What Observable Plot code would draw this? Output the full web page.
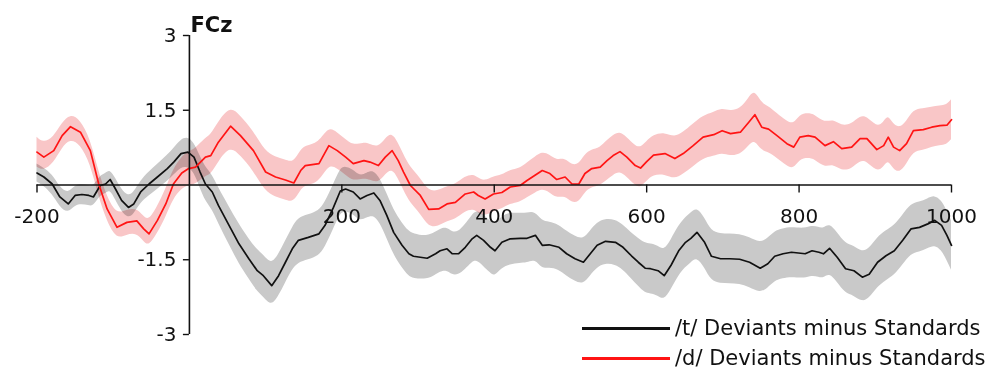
<!DOCTYPE html>
<html>
<head>
<meta charset="utf-8">
<script src="https://cdn.jsdelivr.net/npm/d3@7"></script>
<script src="https://cdn.jsdelivr.net/npm/@observablehq/plot@0.6"></script>
<style>
  html, body { margin: 0; padding: 0; background: #fff; }
  #wrap { position: relative; width: 998px; height: 371px; overflow: hidden; }
  #legend { position: absolute; left: 0; top: 0; width: 998px; height: 371px; pointer-events: none;
            font-family: "DejaVu Sans", sans-serif; font-size: 21px; color: #111; }
  .item { position: absolute; left: 582px; display: flex; align-items: center; }
  .swatch { width: 88px; height: 3px; margin-right: 5px; }
</style>
</head>
<body>
<div id="wrap"></div>
<script>
// ---- data ----
const seriesNames = ["/t/ Deviants minus Standards", "/d/ Deviants minus Standards"];
const seriesColors = ["#111111", "#ff1414"];
const bandColors = ["#c9c9c9", "#f9c6c7"];

const blackTime = [-200,-191,-180,-170,-159,-150,-141,-132,-126,-117,
  -110,-104,-97,-89,-80,-73,-64,-53,-42,-29,
  -20,-11,-2,6,14,21,30,38,52,65,
  78,89,97,108,117,126,135,143,156,170,
  178,189,198,205,215,224,233,242,250,259,
  268,279,288,294,312,323,329,338,345,353,
  362,371,377,386,395,401,410,421,434,443,
  454,463,472,485,495,506,517,526,535,546,
  559,569,580,589,598,605,615,623,632,642,
  651,658,666,676,685,697,709,722,735,749,
  759,768,779,790,808,817,826,832,840,850,
  861,872,883,892,903,914,925,936,947,958,
  969,978,987,994,1000];
const blackMean = [0.24,0.16,0.02,-0.24,-0.38,-0.21,-0.19,-0.21,-0.24,-0.01,
  0.02,0.11,-0.08,-0.31,-0.45,-0.38,-0.14,0.02,0.16,0.33,
  0.47,0.63,0.66,0.56,0.26,0.02,-0.14,-0.41,-0.81,-1.18,
  -1.48,-1.72,-1.82,-2.02,-1.82,-1.55,-1.28,-1.11,-1.05,-0.98,
  -0.81,-0.45,-0.12,-0.08,-0.14,-0.28,-0.21,-0.16,-0.31,-0.61,
  -0.95,-1.21,-1.38,-1.43,-1.47,-1.38,-1.32,-1.28,-1.38,-1.38,
  -1.25,-1.08,-1.01,-1.11,-1.25,-1.32,-1.15,-1.08,-1.07,-1.07,
  -1.01,-1.21,-1.20,-1.25,-1.38,-1.48,-1.55,-1.38,-1.21,-1.13,
  -1.15,-1.25,-1.42,-1.55,-1.67,-1.68,-1.72,-1.82,-1.61,-1.32,
  -1.15,-1.07,-0.95,-1.15,-1.43,-1.48,-1.48,-1.49,-1.55,-1.67,
  -1.58,-1.43,-1.38,-1.35,-1.38,-1.32,-1.35,-1.38,-1.27,-1.45,
  -1.68,-1.72,-1.85,-1.79,-1.55,-1.42,-1.32,-1.11,-0.88,-0.85,
  -0.78,-0.71,-0.81,-1.01,-1.21];
const blackSE = [0.18,0.18,0.2,0.2,0.2,0.2,0.2,0.2,0.2,0.2,
  0.2,0.2,0.22,0.22,0.22,0.22,0.22,0.24,0.25,0.26,
  0.27,0.28,0.3,0.3,0.32,0.34,0.35,0.36,0.38,0.4,
  0.4,0.42,0.42,0.42,0.42,0.42,0.42,0.45,0.45,0.45,
  0.45,0.45,0.45,0.45,0.45,0.45,0.45,0.45,0.45,0.45,
  0.45,0.45,0.45,0.45,0.43,0.43,0.43,0.43,0.43,0.43,
  0.45,0.47,0.5,0.52,0.52,0.52,0.52,0.52,0.5,0.5,
  0.48,0.48,0.46,0.45,0.45,0.45,0.45,0.45,0.45,0.45,
  0.45,0.45,0.46,0.48,0.5,0.5,0.5,0.5,0.5,0.5,
  0.5,0.5,0.5,0.5,0.5,0.5,0.5,0.5,0.5,0.5,
  0.5,0.5,0.5,0.5,0.5,0.5,0.5,0.5,0.5,0.5,
  0.5,0.5,0.5,0.5,0.5,0.5,0.5,0.5,0.5,0.5,
  0.5,0.5,0.5,0.5,0.5];

const redTime = [-200,-191,-178,-167,-156,-143,-130,-119,-108,-95,
  -82,-69,-60,-53,-42,-31,-21,-10,-1,8,
  21,28,38,54,67,84,100,113,126,137,
  146,152,170,183,194,205,215,229,237,248,
  257,266,274,281,290,303,314,327,338,349,
  362,373,379,388,399,410,421,434,443,454,
  463,473,482,493,502,511,519,528,539,548,
  556,565,574,585,592,600,609,624,637,648,
  661,674,688,699,710,723,734,742,751,760,
  771,784,793,801,812,821,834,845,856,869,
  880,889,902,911,917,924,932,941,950,963,
  974,985,994,1000];
const redMean = [0.66,0.56,0.69,0.99,1.17,1.06,0.69,0.02,-0.48,-0.85,
  -0.75,-0.72,-0.88,-0.98,-0.71,-0.38,0.02,0.24,0.33,0.36,
  0.56,0.59,0.86,1.18,0.99,0.69,0.26,0.16,0.10,0.04,
  0.29,0.39,0.43,0.79,0.69,0.56,0.43,0.49,0.46,0.39,
  0.56,0.69,0.49,0.26,-0.01,-0.21,-0.49,-0.48,-0.38,-0.35,
  -0.18,-0.14,-0.21,-0.28,-0.18,-0.15,-0.04,-0.01,0.09,0.20,
  0.29,0.23,0.11,0.16,0.02,0.02,0.23,0.33,0.36,0.49,
  0.59,0.67,0.56,0.39,0.34,0.47,0.60,0.63,0.53,0.63,
  0.79,0.96,1.01,1.09,1.03,1.06,1.26,1.41,1.16,1.12,
  0.99,0.83,0.76,0.96,0.99,0.96,0.79,0.87,0.73,0.76,
  0.93,0.93,0.71,0.79,0.96,0.76,0.69,0.83,1.09,1.11,
  1.16,1.19,1.20,1.31];
const redSE = [0.3,0.28,0.26,0.25,0.25,0.25,0.25,0.25,0.25,0.25,
  0.25,0.25,0.25,0.26,0.27,0.28,0.3,0.32,0.34,0.36,
  0.38,0.4,0.4,0.4,0.4,0.4,0.4,0.4,0.4,0.4,
  0.4,0.4,0.4,0.38,0.36,0.36,0.36,0.36,0.36,0.36,
  0.36,0.36,0.36,0.36,0.36,0.36,0.36,0.36,0.35,0.35,
  0.35,0.35,0.35,0.35,0.35,0.34,0.34,0.34,0.35,0.36,
  0.37,0.38,0.38,0.38,0.38,0.38,0.38,0.38,0.38,0.4,
  0.4,0.4,0.4,0.4,0.4,0.4,0.4,0.42,0.42,0.42,
  0.43,0.43,0.44,0.45,0.45,0.46,0.48,0.5,0.48,0.46,
  0.45,0.45,0.45,0.45,0.45,0.45,0.45,0.45,0.45,0.45,
  0.45,0.45,0.45,0.45,0.45,0.45,0.45,0.43,0.42,0.42,
  0.4,0.4,0.4,0.4];

const xTicks = [-200, 200, 400, 600, 800, 1000];
const xTickLabels = ["-200", "200", "400", "600", "800", "1000"];
const yTicks = [3, 1.5, -1.5, -3];
const yTickLabels = ["3", "1.5", "-1.5", "-3"];
const channelLabel = "FCz";

// ---- build tables ----
const black = blackTime.map((t, i) => ({t, m: blackMean[i], lo: blackMean[i] - blackSE[i], hi: blackMean[i] + blackSE[i]}));
const red = redTime.map((t, i) => ({t, m: redMean[i], lo: redMean[i] - redSE[i], hi: redMean[i] + redSE[i]}));

const font = "'DejaVu Sans', sans-serif";

const chart = Plot.plot({
  width: 998,
  height: 371,
  marginLeft: 36.5,
  marginRight: 47,
  marginTop: 35,
  marginBottom: 37,
  x: {domain: [-200, 1000], axis: null},
  y: {domain: [-3, 3], axis: null},
  style: {background: "#fff", fontFamily: font, color: "#111"},
  marks: [
    Plot.areaY(black, {x: "t", y1: "lo", y2: "hi", fill: bandColors[0], curve: "basis", mixBlendMode: "multiply"}),
    Plot.areaY(red, {x: "t", y1: "lo", y2: "hi", fill: bandColors[1], curve: "basis", mixBlendMode: "multiply"}),
    Plot.line(black, {x: "t", y: "m", stroke: seriesColors[0], strokeWidth: 1.7}),
    Plot.line(red, {x: "t", y: "m", stroke: seriesColors[1], strokeWidth: 1.7}),
    Plot.ruleY([0], {stroke: "#111", strokeWidth: 1.6}),
    Plot.ruleX([0], {y1: -3, y2: 3, stroke: "#111", strokeWidth: 1.6}),
    Plot.ruleY(yTicks, {x1: 0, x2: 0, insetLeft: -6, stroke: "#111", strokeWidth: 1.4}),
    Plot.ruleX(xTicks, {y1: 0, y2: 0, insetBottom: -8, stroke: "#111", strokeWidth: 1.4}),
    Plot.text(yTicks, {x: 0, y: d => d, text: (d, i) => yTickLabels[i], textAnchor: "end", dx: -13, fontSize: 20, fill: "#111"}),
    Plot.text(xTicks, {x: d => d, y: 0, text: (d, i) => xTickLabels[i], dy: 32, fontSize: 20, fill: "#111"}),
    Plot.text([channelLabel], {x: 0, y: 3, text: d => d, textAnchor: "start", dx: 1, dy: -10, fontSize: 21, fontWeight: "bold", fill: "#111"})
  ]
});

const wrap = document.getElementById("wrap");
wrap.appendChild(chart);

const legend = document.createElement("div");
legend.id = "legend";
seriesNames.forEach((name, i) => {
  const item = document.createElement("div");
  item.className = "item";
  item.style.top = (i === 0 ? 316 : 346) + "px";
  const sw = document.createElement("div");
  sw.className = "swatch";
  sw.style.background = seriesColors[i];
  const lab = document.createElement("span");
  lab.textContent = name;
  item.appendChild(sw);
  item.appendChild(lab);
  legend.appendChild(item);
});
wrap.appendChild(legend);
</script>
</body>
</html>
